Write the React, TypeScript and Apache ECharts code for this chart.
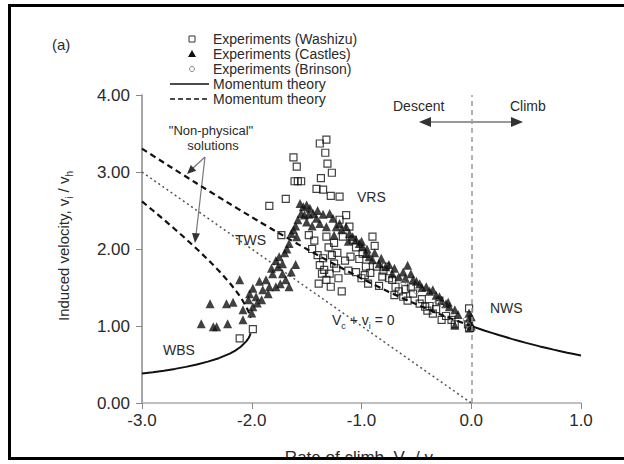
import React, { useEffect, useRef } from "react";
import * as echarts from "echarts";

const FONT = "'Liberation Sans', Arial, Helvetica, sans-serif";

const xTicks = [-3, -2, -1, 0, 1];
const yTicks = [0, 1, 2, 3, 4];

// Experiments (Washizu): [Vc/vh, vi/vh]
const washizu: [number, number][] = [
  [-1.32, 3.42], [-1.38, 3.37], [-1.33, 3.25], [-1.31, 3.11], [-1.27, 2.99], [-1.37, 2.92],
  [-1.62, 3.19], [-1.59, 3.07], [-1.61, 2.88], [-1.58, 2.88], [-1.55, 2.88], [-1.41, 2.78],
  [-1.35, 2.77], [-1.28, 2.69], [-1.20, 2.68], [-1.69, 2.65], [-1.84, 2.56], [-1.73, 2.18],
  [-1.43, 2.11], [-1.32, 2.16], [-1.25, 2.08], [-1.30, 2.02], [-1.38, 1.79], [-1.34, 1.73],
  [-1.29, 1.68], [-1.23, 1.75], [-1.32, 1.60], [-1.28, 1.51], [-1.36, 1.68], [-1.25, 1.81],
  [-1.20, 2.38], [-1.14, 2.44], [-1.11, 2.29], [-1.17, 2.16], [-1.08, 2.12], [-1.05, 2.02],
  [-0.99, 1.94], [-1.02, 1.87], [-0.96, 1.77], [-0.90, 2.16], [-0.88, 2.04], [-0.92, 1.69],
  [-0.86, 1.77], [-0.81, 1.64], [-0.78, 1.77], [-0.72, 1.60], [-0.69, 1.51], [-0.62, 1.38],
  [-0.53, 1.42], [-0.47, 1.29], [-0.38, 1.26], [-0.35, 1.16], [-0.29, 1.33], [-0.23, 1.13],
  [-2.11, 0.84], [-1.99, 0.96], [-0.02, 1.23], [-0.18, 1.08], [-0.15, 1.02], [-0.02, 0.97],
  [-0.80, 1.72], [-0.75, 1.62], [-0.55, 1.50], [-0.45, 1.35], [-0.40, 1.20], [-0.32, 1.22],
  [-1.48, 2.18], [-1.45, 2.00], [-1.40, 1.92], [-1.35, 1.88], [-1.27, 1.92], [-1.22, 1.95],
  [-1.15, 1.85], [-1.10, 1.90], [-1.12, 1.72], [-1.05, 1.70], [-1.00, 1.62], [-0.97, 1.66],
  [-1.39, 1.55], [-1.21, 1.62], [-1.18, 1.45], [-0.94, 1.55], [-0.84, 1.52], [-0.66, 1.45],
  [-0.58, 1.33], [-0.27, 1.08], [-0.03, 1.02], [-0.70, 1.40], [-0.60, 1.48], [-0.42, 1.25]
];

// Experiments (Castles)
const castles: [number, number][] = [
  [-1.56, 2.59], [-1.53, 2.55], [-1.50, 2.57], [-1.47, 2.53], [-1.55, 2.46], [-1.52, 2.44],
  [-1.44, 2.46], [-1.41, 2.40], [-1.58, 2.38], [-1.62, 2.25], [-1.64, 2.20], [-1.59, 2.16],
  [-1.66, 2.07], [-1.38, 2.33], [-1.32, 2.29], [-1.29, 2.46], [-1.26, 2.40], [-1.23, 2.29],
  [-1.20, 2.33], [-1.14, 2.29], [-1.11, 2.20], [-1.08, 2.16], [-1.05, 2.12], [-1.02, 2.07],
  [-0.99, 2.03], [-0.96, 1.94], [-0.93, 1.90], [-0.90, 1.86], [-0.84, 1.81], [-0.78, 1.77],
  [-0.72, 1.68], [-0.66, 1.64], [-0.58, 1.79], [-0.53, 1.60], [-0.47, 1.55], [-0.41, 1.51],
  [-0.35, 1.47], [-0.29, 1.38], [-0.23, 1.29], [-0.21, 1.31], [-0.15, 1.21], [-0.15, 1.01],
  [-0.02, 1.17], [-0.02, 1.10], [-0.01, 1.05], [0.0, 1.00], [0.0, 1.12], [-0.01, 0.98],
  [-1.75, 1.90], [-1.72, 1.81], [-1.76, 1.77], [-1.81, 1.68], [-1.87, 1.60], [-1.78, 1.51],
  [-1.69, 1.60], [-1.66, 1.51], [-1.72, 1.68], [-1.84, 1.51], [-1.90, 1.47], [-1.93, 1.58],
  [-1.99, 1.49], [-2.02, 1.42], [-1.96, 1.38], [-1.91, 1.34], [-2.03, 1.34], [-1.99, 1.25],
  [-2.08, 1.21], [-2.11, 1.60], [-2.38, 1.29], [-2.23, 1.29], [-2.17, 1.31], [-2.46, 1.03],
  [-2.35, 0.99], [-2.32, 0.99], [-2.22, 1.03], [-2.08, 1.08], [-2.00, 1.17],
  [-1.60, 2.30], [-1.50, 2.35], [-1.45, 2.30], [-1.35, 2.45], [-1.40, 2.50], [-1.48, 2.45],
  [-1.70, 1.95], [-1.68, 2.00], [-1.78, 1.85], [-1.82, 1.75], [-1.64, 1.70], [-1.60, 1.80],
  [-1.25, 2.18], [-1.18, 2.25], [-1.12, 2.10], [-1.00, 2.10], [-0.95, 2.00], [-0.88, 1.95],
  [-0.82, 1.88], [-0.75, 1.80], [-0.70, 1.75], [-0.62, 1.70], [-0.60, 1.62], [-0.55, 1.68],
  [-0.50, 1.58], [-0.45, 1.50], [-0.38, 1.45], [-0.32, 1.40], [-0.27, 1.33], [-0.20, 1.25],
  [-0.12, 1.15], [-1.85, 1.42], [-1.95, 1.30], [-1.74, 1.55]
];

// Experiments (Brinson)
const brinson: [number, number][] = [
  [-0.31, 1.31], [-0.26, 1.27], [-0.50, 1.45], [-0.62, 1.56], [-0.05, 1.08], [-0.03, 1.02]
];

// Momentum theory, physical branches (solid)
const wbsCurve: [number, number][] = [
  [-3.0, 0.382], [-2.9, 0.400], [-2.8, 0.420], [-2.7, 0.443], [-2.6, 0.469], [-2.5, 0.500],
  [-2.4, 0.537], [-2.3, 0.582], [-2.2, 0.642], [-2.15, 0.681], [-2.1, 0.730], [-2.05, 0.800],
  [-2.03, 0.841], [-2.02, 0.868], [-2.01, 0.905]
];
const climbCurve: [number, number][] = [
  [0, 1.0], [0.125, 0.939], [0.25, 0.883], [0.375, 0.830], [0.5, 0.781], [0.625, 0.735],
  [0.75, 0.693], [0.875, 0.653], [1.0, 0.618]
];
// Momentum theory, non-physical branches (dashed)
const upperBranch: [number, number][] = [
  [-3.0, 3.303], [-2.75, 3.075], [-2.5, 2.851], [-2.25, 2.630], [-2.0, 2.414], [-1.75, 2.204],
  [-1.5, 2.0], [-1.25, 1.804], [-1.0, 1.618], [-0.75, 1.443], [-0.5, 1.281], [-0.25, 1.133], [0, 1.0]
];
const lowerBranch: [number, number][] = [
  [-3.0, 2.618], [-2.9, 2.500], [-2.8, 2.380], [-2.7, 2.257], [-2.6, 2.131], [-2.5, 2.0],
  [-2.4, 1.863], [-2.3, 1.718], [-2.2, 1.558], [-2.15, 1.469], [-2.1, 1.370], [-2.05, 1.250],
  [-2.03, 1.189], [-2.02, 1.152], [-2.01, 1.105]
];
// Vc + vi = 0
const idealLine: [number, number][] = [[-3, 3], [0, 0]];

const legendItems = [
  "Experiments (Washizu)",
  "Experiments (Castles)",
  "Experiments (Brinson)",
  "Momentum theory",
  "Momentum theory",
];

export default function App() {
  const ref = useRef<HTMLDivElement>(null);
  useEffect(() => {
    if (!ref.current) return;
    const chart = echarts.init(ref.current, null, { renderer: "svg" });
    const txt = (x: number, y: number, text: string, size: number, extra: any = {}) => ({
      type: "text",
      x,
      y,
      z: 100,
      style: {
        text,
        fontSize: size,
        fontFamily: FONT,
        fill: "#2a2a2a",
        verticalAlign: "middle",
        ...extra,
      },
    });
    const legendY = [39, 54, 69, 84, 99];
    const graphic: any[] = [
      txt(52, 44, "(a)", 15),
      // legend
      {
        type: "rect",
        shape: { x: 189, y: legendY[0] - 3, width: 6, height: 6 },
        style: { fill: "none", stroke: "#333", lineWidth: 1 },
      },
      {
        type: "polygon",
        shape: { points: [[192, legendY[1] - 4], [196, legendY[1] + 3], [188, legendY[1] + 3]] },
        style: { fill: "#111" },
      },
      {
        type: "circle",
        shape: { cx: 192, cy: legendY[2], r: 2.5 },
        style: { fill: "none", stroke: "#888", lineWidth: 1 },
      },
      {
        type: "line",
        shape: { x1: 170, y1: legendY[3], x2: 209, y2: legendY[3] },
        style: { stroke: "#111", lineWidth: 1.5 },
      },
      {
        type: "line",
        shape: { x1: 170, y1: legendY[4], x2: 209, y2: legendY[4] },
        style: { stroke: "#111", lineWidth: 1.5, lineDash: [5, 3] },
      },
      ...legendItems.map((t, i) => txt(213, legendY[i], t, 14)),
      // Descent / Climb
      txt(393, 106, "Descent", 14),
      txt(510, 106, "Climb", 14),
      {
        type: "line",
        shape: { x1: 428, y1: 122, x2: 514, y2: 122 },
        style: { stroke: "#999", lineWidth: 2 },
      },
      { type: "polygon", shape: { points: [[419, 122], [431, 117], [431, 127]] }, style: { fill: "#333" } },
      { type: "polygon", shape: { points: [[523, 122], [511, 117], [511, 127]] }, style: { fill: "#333" } },
      // non-physical
      txt(211, 130, '"Non-physical"', 13, { align: "center" }),
      txt(213, 145, "solutions", 13, { align: "center" }),
      {
        type: "line",
        shape: { x1: 205, y1: 157, x2: 192, y2: 169 },
        style: { stroke: "#777", lineWidth: 1.2 },
      },
      {
        type: "line",
        shape: { x1: 205, y1: 157, x2: 196, y2: 235 },
        style: { stroke: "#777", lineWidth: 1.2 },
      },
      { type: "polygon", shape: { points: [[187, 174], [196.2, 170.7], [190.8, 164.9]] }, style: { fill: "#333" } },
      { type: "polygon", shape: { points: [[195, 243], [200, 233.5], [192, 233]] }, style: { fill: "#333" } },
      // regime labels
      txt(235, 240, "TWS", 14),
      txt(357, 197, "VRS", 14),
      txt(163, 350, "WBS", 14),
      txt(490, 308, "NWS", 14),
      {
        type: "text",
        x: 332,
        y: 320,
        z: 100,
        style: {
          text: "{n|V}{s|c}{n| + v}{s|i}{n| = 0}",
          verticalAlign: "middle",
          rich: {
            n: { fontSize: 14, fontFamily: FONT, fill: "#2a2a2a", lineHeight: 20 },
            s: { fontSize: 9, fontFamily: FONT, fill: "#2a2a2a", lineHeight: 10, verticalAlign: "bottom" },
          },
        },
      },
      // axis names
      {
        type: "text",
        x: 63,
        y: 246,
        rotation: Math.PI / 2,
        z: 100,
        style: {
          text: "{n|Induced velocity, v}{s|i}{n| / v}{s|h}",
          align: "center",
          verticalAlign: "middle",
          rich: {
            n: { fontSize: 15, fontFamily: FONT, fill: "#2a2a2a", lineHeight: 22 },
            s: { fontSize: 10, fontFamily: FONT, fill: "#2a2a2a", lineHeight: 11, verticalAlign: "bottom" },
          },
        },
      },
      {
        type: "text",
        x: 362,
        y: 445,
        z: 100,
        style: {
          text: "{n|Rate of climb, V}{s|c}{n| / v}{s|h}",
          align: "center",
          verticalAlign: "top",
          rich: {
            n: { fontSize: 17, fontFamily: FONT, fill: "#2a2a2a", lineHeight: 24 },
            s: { fontSize: 11, fontFamily: FONT, fill: "#2a2a2a", lineHeight: 12, verticalAlign: "bottom" },
          },
        },
      },
      {
        type: "rect",
        z: 110,
        shape: { x: 0, y: 459, width: 624, height: 5 },
        style: { fill: "#fff" },
      },
      {
        type: "rect",
        z: 120,
        shape: { x: 9.5, y: 5.5, width: 700, height: 453 },
        style: { fill: "none", stroke: "#000", lineWidth: 3 },
      },
    ];

    const option: any = {
      animation: false,
      backgroundColor: "#fff",
      grid: {
        left: 142,
        right: 43,
        top: 95,
        bottom: 61,
        containLabel: false,
        outerBoundsMode: "none",
      },
      xAxis: {
        type: "value",
        min: xTicks[0],
        max: xTicks[xTicks.length - 1],
        interval: 1,
        axisLine: { show: true, onZero: false, lineStyle: { color: "#aaa", width: 1.5 } },
        axisTick: { show: true, length: 6, lineStyle: { color: "#888", width: 1 } },
        splitLine: { show: false },
        axisLabel: {
          margin: 9,
          fontSize: 17,
          fontFamily: FONT,
          color: "#2a2a2a",
          formatter: (v: number) => v.toFixed(1),
        },
      },
      yAxis: {
        type: "value",
        min: yTicks[0],
        max: yTicks[yTicks.length - 1],
        interval: 1,
        axisLine: { show: true, onZero: false, lineStyle: { color: "#888", width: 1.5 } },
        axisTick: { show: true, length: 6, lineStyle: { color: "#888", width: 1 } },
        splitLine: { show: false },
        axisLabel: {
          margin: 12,
          fontSize: 17,
          fontFamily: FONT,
          color: "#2a2a2a",
          formatter: (v: number) => v.toFixed(2),
        },
      },
      series: [
        {
          name: "Vc + vi = 0",
          type: "line",
          data: idealLine,
          symbol: "none",
          z: 1,
          lineStyle: { color: "#555", width: 1.5, type: [2, 3] },
          markLine: {
            silent: true,
            symbol: ["none", "none"],
            label: { show: false },
            lineStyle: { color: "#999", width: 1.5, type: [5, 4] },
            data: [{ xAxis: 0 }],
          },
        },
        {
          name: "Momentum theory (non-physical upper)",
          type: "line",
          data: upperBranch,
          symbol: "none",
          smooth: 0.2,
          z: 1,
          lineStyle: { color: "#111", width: 2.2, type: [6, 4] },
        },
        {
          name: "Momentum theory (non-physical lower)",
          type: "line",
          data: lowerBranch,
          symbol: "none",
          z: 1,
          lineStyle: { color: "#111", width: 2.2, type: [6, 4] },
        },
        {
          name: "Momentum theory (WBS)",
          type: "line",
          data: wbsCurve,
          symbol: "none",
          z: 1,
          lineStyle: { color: "#111", width: 2 },
        },
        {
          name: "Momentum theory (climb)",
          type: "line",
          data: climbCurve,
          symbol: "none",
          smooth: 0.2,
          z: 1,
          lineStyle: { color: "#111", width: 2 },
        },
        {
          name: "Experiments (Washizu)",
          type: "scatter",
          data: washizu,
          symbol: "rect",
          symbolSize: 7,
          z: 3,
          itemStyle: { color: "rgba(255,255,255,0)", borderColor: "#111", borderWidth: 1.2 },
        },
        {
          name: "Experiments (Castles)",
          type: "scatter",
          data: castles,
          symbol: "triangle",
          symbolSize: 9,
          z: 4,
          itemStyle: { color: "#111" },
        },
        {
          name: "Experiments (Brinson)",
          type: "scatter",
          data: brinson,
          symbol: "circle",
          symbolSize: 5,
          z: 5,
          itemStyle: { color: "rgba(255,255,255,0)", borderColor: "#777", borderWidth: 1 },
        },
      ],
      graphic,
    };
    chart.setOption(option);
    return () => chart.dispose();
  }, []);
  return (
    <div
      ref={ref}
      style={{ position: "fixed", left: 0, top: 0, width: 624, height: 464, background: "#fff" }}
    />
  );
}
